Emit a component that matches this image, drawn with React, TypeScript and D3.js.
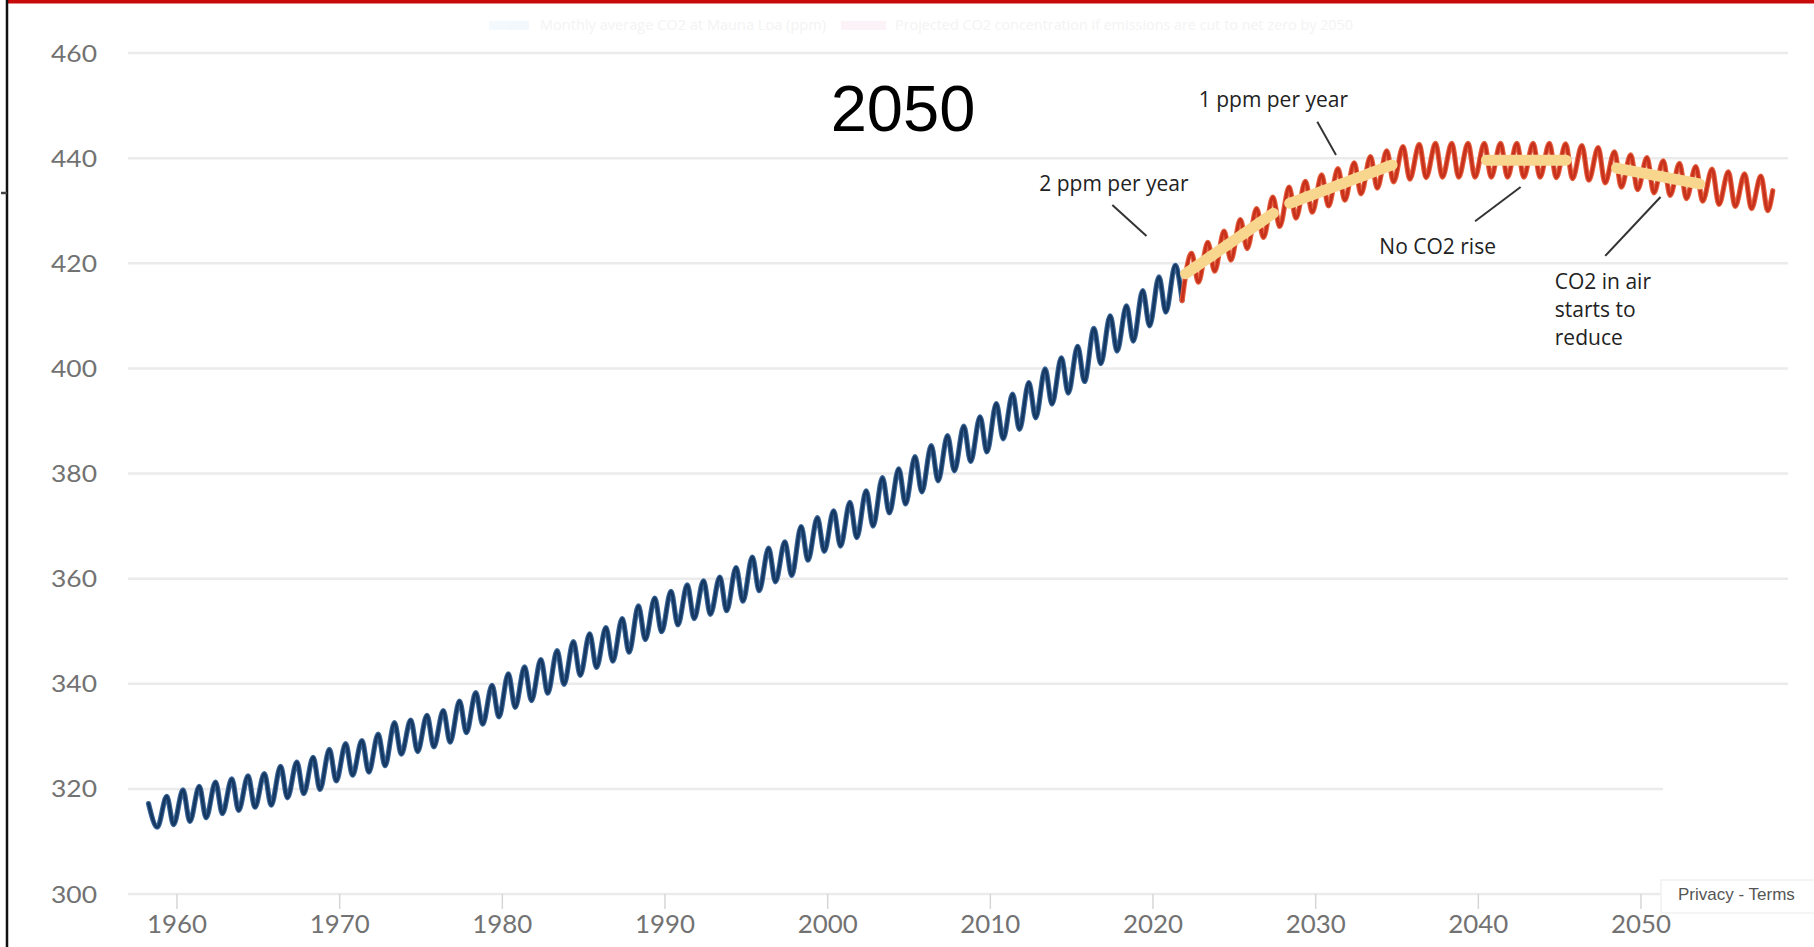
import React, { useEffect } from "react";
import * as d3 from "d3";

const W = 1814;
const H = 947;

// ---------- data ----------
const yTickValues = [300, 320, 340, 360, 380, 400, 420, 440, 460];
const xTickValues = [1960, 1970, 1980, 1990, 2000, 2010, 2020, 2030, 2040, 2050];

// seasonal timing of the yearly maximum (May) and minimum (October)
const PEAK_OFFSET = 0.37;
const TROUGH_OFFSET = 0.79;

// measured series (blue)
const blueStart: [number, number] = [1958.25, 317.2];
const bluePeakFirstYear = 1959;
const bluePeaks = [
  318.6, 319.8, 320.5, 321.3, 321.9, 322.5, 322.9, 324.3, 325.1, 326.0,
  327.5, 328.6, 329.2, 330.4, 332.6, 333.1, 334.0, 334.9, 336.7, 338.3,
  339.7, 341.9, 343.2, 344.6, 346.3, 348.0, 349.5, 350.7, 352.4, 354.8,
  356.3, 357.6, 358.8, 359.6, 360.3, 362.1, 364.1, 365.8, 367.0, 369.9,
  371.6, 372.9, 374.5, 376.7, 379.2, 380.9, 383.2, 385.3, 387.2, 389.0,
  390.8, 393.3, 395.1, 397.3, 399.9, 402.0, 404.2, 407.6, 410.0, 411.9,
  414.8, 417.4, 419.6,
];
const blueTroughFirstYear = 1958;
const blueTroughs = [
  312.7, 313.2, 313.8, 314.5, 315.3, 315.9, 316.5, 316.9, 318.3, 319.1,
  319.9, 321.5, 322.6, 323.2, 324.4, 326.6, 327.1, 328.0, 328.9, 330.7,
  332.3, 333.7, 335.5, 336.8, 338.2, 339.9, 341.6, 343.1, 344.3, 346.0,
  348.4, 349.9, 351.2, 352.4, 353.2, 353.9, 355.7, 357.7, 359.4, 360.6,
  363.5, 365.2, 366.2, 367.8, 370.0, 372.5, 374.2, 376.5, 378.6, 380.5,
  382.3, 384.1, 386.6, 388.4, 390.6, 393.2, 395.3, 397.5, 400.9, 403.3,
  405.2, 408.1, 410.7, 412.9,
];

// projected series (red)
const redFirstYear = 2022;
const redPeaks = [
  421.9, 424.0, 426.1, 428.3, 430.4, 432.6, 434.5, 435.6, 436.8, 438.0,
  439.1, 440.3, 441.4, 442.2, 442.6, 442.8, 442.8, 442.8, 442.8, 442.8,
  442.8, 442.8, 442.8, 442.7, 442.4, 442.0, 441.2, 440.6, 440.1, 439.5,
  439.0, 438.4, 437.9, 437.4, 437.0, 436.6,
];
const redTroughs = [
  416.4, 418.5, 420.6, 422.8, 424.9, 427.0, 428.6, 429.7, 430.9, 432.0,
  433.2, 434.3, 435.5, 436.0, 436.3, 436.4, 436.4, 436.4, 436.4, 436.4,
  436.4, 436.4, 436.3, 436.1, 435.8, 435.3, 434.5, 434.0, 433.4, 432.9,
  432.3, 431.8, 431.2, 430.8, 430.4, 430.0,
];
const redEnd: [number, number] = [2058.1, 433.8];

// highlighted trend segments (yellow): [year, ppm] pairs
const trendSegA: [number, number][] = [[2022.0, 418.0], [2027.4, 429.5]];
const trendSegB: [number, number][] = [[2028.4, 431.4], [2034.7, 438.7]];
const trendSegC: [number, number][] = [[2040.5, 439.6], [2045.4, 439.6]];
const trendSegD: [number, number][] = [[2048.5, 438.1], [2053.6, 435.1]];
const trendSegments = [trendSegA, trendSegB, trendSegC, trendSegD];

const titleText = "2050";
const legendTexts = [
  "Monthly average CO2 at Mauna Loa (ppm)",
  "Projected CO2 concentration if emissions are cut to net zero by 2050",
];

// ---------- build series ----------
function buildSeries(
  start: [number, number] | null,
  peakFirst: number,
  peaks: number[],
  troughFirst: number,
  troughs: number[],
  end: [number, number] | null
): [number, number][] {
  const pts: [number, number][] = [];
  if (start) pts.push(start);
  peaks.forEach((v, i) => pts.push([peakFirst + i + PEAK_OFFSET, v]));
  troughs.forEach((v, i) => pts.push([troughFirst + i + TROUGH_OFFSET, v]));
  pts.sort((a, b) => a[0] - b[0]);
  if (end) pts.push(end);
  return pts;
}

const bluePts = buildSeries(blueStart, bluePeakFirstYear, bluePeaks, blueTroughFirstYear, blueTroughs, null);
const redPts = buildSeries(bluePts[bluePts.length - 1], redFirstYear, redPeaks, redFirstYear, redTroughs, redEnd);

export default function App() {
  useEffect(() => {
    document.body.style.margin = "0";
    document.body.style.overflow = "hidden";
  }, []);

  const x = d3.scaleLinear().domain([1960, 2050]).range([177, 1641]);
  const y = d3.scaleLinear().domain([300, 460]).range([894, 53]);

  const line = d3
    .line<[number, number]>()
    .x((d) => x(d[0]))
    .y((d) => y(d[1]))
    .curve(d3.curveMonotoneX);
  const straight = d3
    .line<[number, number]>()
    .x((d) => x(d[0]))
    .y((d) => y(d[1]));

  const gridX0 = 128;
  const gridX1 = 1788;
  const axisFont = "Lato, 'Open Sans', sans-serif";
  const annFont = "'Open Sans', 'Noto Sans', sans-serif";
  const annColor = "#222";

  return (
    <div style={{ position: "absolute", left: 0, top: 0 }}>
      <svg width={W} height={H} style={{ display: "block" }}>
        <rect x={0} y={0} width={W} height={H} fill="#ffffff" />

        {/* frame pieces */}
        <rect x={8} y={0} width={W - 8} height={3.5} fill="#c80a0a" />
        <line x1={7} y1={0} x2={7} y2={H} stroke="#111" strokeWidth={2.5} />
        <line x1={1} y1={193} x2={7} y2={193} stroke="#444" strokeWidth={2.5} />

        {/* faint legend */}
        <g opacity={0.45}>
          <rect x={489} y={21} width={40} height={9} fill="#e4f1f8" />
          <text x={540} y={30} fontFamily={annFont} fontSize={15} fill="#e6e6e6" textLength={286} lengthAdjust="spacingAndGlyphs">
            {legendTexts[0]}
          </text>
          <rect x={841} y={21} width={45} height={9} fill="#f8e6ee" />
          <text x={895} y={30} fontFamily={annFont} fontSize={15} fill="#e6e6e6" textLength={458} lengthAdjust="spacingAndGlyphs">
            {legendTexts[1]}
          </text>
        </g>

        {/* gridlines */}
        {yTickValues.map((v) => (
          <line key={"g" + v} x1={gridX0} x2={gridX1} y1={y(v)} y2={y(v)} stroke="#ebebeb" strokeWidth={2.5} />
        ))}
        {/* y labels */}
        {yTickValues.map((v) => (
          <text
            key={"yl" + v}
            x={97}
            y={y(v) + 8.5}
            textAnchor="end"
            fontFamily={axisFont}
            fontSize={23}
            fill="#727272"
            textLength={46}
            lengthAdjust="spacingAndGlyphs"
          >
            {v}
          </text>
        ))}
        {/* x ticks and labels */}
        {xTickValues.map((t) => (
          <line key={"xt" + t} x1={x(t)} x2={x(t)} y1={y(300)} y2={y(300) + 15} stroke="#d6d6d6" strokeWidth={1.5} />
        ))}

        {/* measured series */}
        <path d={line(bluePts) || ""} fill="none" stroke="#3c6798" strokeWidth={5.2} strokeLinejoin="round" strokeLinecap="round" />
        <path d={line(bluePts) || ""} fill="none" stroke="#163963" strokeWidth={3} strokeLinejoin="round" strokeLinecap="round" />

        {/* projected series */}
        <path d={line(redPts) || ""} fill="none" stroke="#e4603f" strokeWidth={5.2} strokeLinejoin="round" strokeLinecap="round" />
        <path d={line(redPts) || ""} fill="none" stroke="#c8321c" strokeWidth={3} strokeLinejoin="round" strokeLinecap="round" />

        {/* trend highlights */}
        {trendSegments.map((seg, i) => (
          <path key={"tr" + i} d={straight(seg) || ""} fill="none" stroke="#f8d68e" strokeWidth={11} strokeLinecap="round" />
        ))}

        {/* annotations */}
        <line x1={x(2017.5)} y1={y(431.1)} x2={x(2019.6)} y2={y(425.2)} stroke="#333" strokeWidth={2} />
        <text x={x(2017.6)} y={y(433.8)} textAnchor="middle" fontFamily={annFont} fontSize={21} fontWeight={500} fill={annColor}>
          2 ppm per year
        </text>

        <line x1={x(2030.1)} y1={y(446.9)} x2={x(2031.25)} y2={y(440.6)} stroke="#333" strokeWidth={2} />
        <text x={x(2027.4)} y={y(449.7)} textAnchor="middle" fontFamily={annFont} fontSize={21} fontWeight={500} fill={annColor}>
          1 ppm per year
        </text>

        <line x1={x(2039.8)} y1={y(428.0)} x2={x(2042.6)} y2={y(434.5)} stroke="#333" strokeWidth={2} />
        <text x={x(2037.5)} y={y(421.8)} textAnchor="middle" fontFamily={annFont} fontSize={21} fontWeight={500} fill={annColor}>
          No CO2 rise
        </text>

        <line x1={x(2047.8)} y1={y(421.4)} x2={x(2051.2)} y2={y(432.6)} stroke="#333" strokeWidth={2} />
        <text x={x(2044.7)} y={y(415.1)} fontFamily={annFont} fontSize={21} fontWeight={500} fill={annColor}>
          <tspan x={x(2044.7)} dy={0}>CO2 in air</tspan>
          <tspan x={x(2044.7)} dy={28}>starts to</tspan>
          <tspan x={x(2044.7)} dy={28}>reduce</tspan>
        </text>

        {/* big year label */}
        <text x={903} y={131} textAnchor="middle" fontFamily="'Liberation Sans', Arial, sans-serif" fontSize={65} fill="#000">
          {titleText}
        </text>

        {/* privacy badge */}
        <rect x={1663} y={775} width={W - 1663} height={138} fill="#ffffff" />
        <rect x={1661} y={880} width={W - 1661 + 4} height={33} fill="#ffffff" stroke="#f1f1f1" strokeWidth={1.5} />
        <text x={1678} y={900} fontFamily="'Liberation Sans', Arial, sans-serif" fontSize={17} fill="#555">
          Privacy - Terms
        </text>

        {/* x labels */}
        {xTickValues.map((t) => (
          <text
            key={"xl" + t}
            x={x(t)}
            y={933}
            textAnchor="middle"
            fontFamily={axisFont}
            fontSize={25}
            fill="#727272"
            textLength={60}
            lengthAdjust="spacingAndGlyphs"
          >
            {t}
          </text>
        ))}
      </svg>
    </div>
  );
}
